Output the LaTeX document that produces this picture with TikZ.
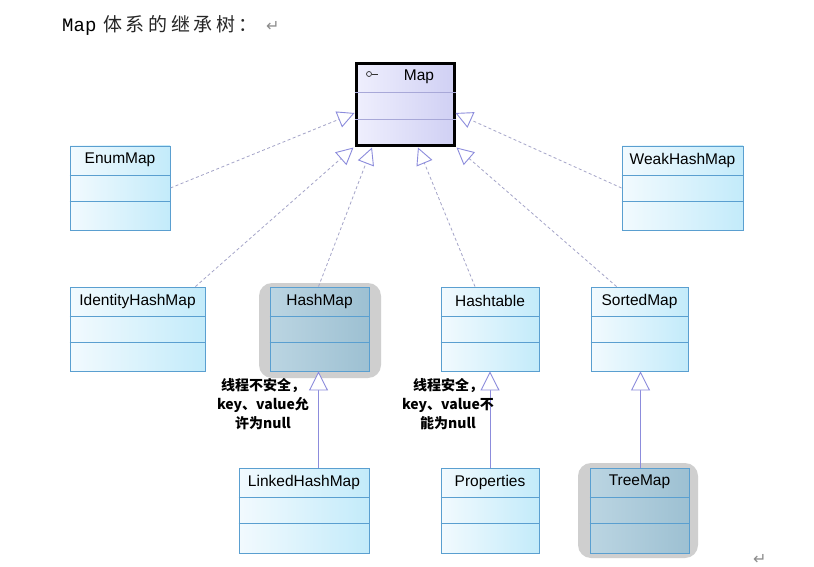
\documentclass[tikz,border=0pt]{standalone}
\usepackage{fontspec}
\setmainfont{Liberation Sans}
\newfontfamily\cjk{Noto Sans CJK SC}
\newfontfamily\cjktitle[LetterSpace=19]{Noto Sans CJK SC}
\newfontfamily\monof{Liberation Mono}
\newfontfamily\symf{DejaVu Sans}
\usetikzlibrary{arrows.meta,fit,positioning}
\definecolor{boxline}{HTML}{5A9FD0}
\definecolor{boxL}{HTML}{F2FAFE}
\definecolor{boxR}{HTML}{C3EBFA}
\definecolor{selL}{HTML}{BBD5E2}
\definecolor{selR}{HTML}{9DC0D2}
\definecolor{mapL}{HTML}{EFEFFD}
\definecolor{mapR}{HTML}{D0D0F4}
\definecolor{maplin}{HTML}{A8A8D8}
\definecolor{dep}{HTML}{A4A4C8}
\definecolor{tri}{HTML}{8C8CDC}
\definecolor{shad}{HTML}{CFCFCF}
\tikzset{
  cls/.style={draw=boxline, line width=0.9pt, left color=boxL, right color=boxR, inner sep=0pt},
  selcls/.style={draw=boxline, line width=0.9pt, left color=selL, right color=selR, inner sep=0pt},
  mapcls/.style={draw=black, line width=3pt, left color=mapL, right color=mapR, inner sep=0pt},
  shadowbox/.style={fill=shad, rounded corners=13pt, inner sep=0pt},
  lbl/.style={font=\fontsize{15.5}{18}\selectfont, text=black},
  note/.style={font=\cjk\bfseries\fontsize{14}{19}\selectfont, align=center, text=black},
  depend/.style={draw=dep, line width=0.8pt, dash pattern=on 3pt off 2.5pt,
     -{Triangle[open, length=17pt, width=17pt, line width=0.9pt, color=tri, fill=white]}},
  inherit/.style={draw=tri, line width=0.9pt,
     -{Triangle[open, length=19pt, width=19pt, line width=0.9pt, fill=white]}},
}
\newcommand\clsbox[7][cls]{%
  \node[#1, fit={(#2,#3) (#4,#5)}] (#6) {};
  \draw[draw=boxline, line width=0.8pt] ([yshift=-30pt]#6.north west) -- ([yshift=-30pt]#6.north east);
  \draw[draw=boxline, line width=0.8pt] ([yshift=-56pt]#6.north west) -- ([yshift=-56pt]#6.north east);
  \node[lbl] (#6-t) at ([yshift=-14.5pt]#6.north) {#7};
}
\begin{document}
\begin{tikzpicture}[x=1pt,y=-1pt]
\useasboundingbox[fill=white] (0,0) rectangle (814,567);

% title
\node[anchor=base west, inner sep=0pt, font=\monof\fontsize{19}{22}\selectfont] (tmap) at (62,32) {Map};
\node[anchor=base west, inner sep=0pt, font=\cjktitle\fontsize{19}{22}\selectfont, text=black!85] (tcjk) at (103,32) {体系的继承树：};
\node[anchor=base west, inner sep=0pt, font=\symf\fontsize{16}{18}\selectfont, text=black!45] (tret) at (266,32) {↵};
\node[anchor=base west, inner sep=0pt, font=\symf\fontsize{16}{18}\selectfont, text=black!45] (eret) at (753,564) {↵};

% shadows
\node[shadowbox, fit={(259,283) (381,378)}] (hmshadow) {};
\node[shadowbox, fit={(578,463) (698,558)}] (tmshadow) {};

% Map
\node[mapcls, fit={(356,64) (454,146)}] (map) {};
\draw[draw=maplin, line width=0.8pt] ([yshift=-30pt]map.north west) -- ([yshift=-30pt]map.north east);
\draw[draw=maplin, line width=0.8pt] ([yshift=-57pt]map.north west) -- ([yshift=-57pt]map.north east);
\node[lbl] (map-t) at ([xshift=14pt,yshift=-14pt]map.north) {Map};
\node[circle, draw=black!80, line width=0.7pt, minimum size=5pt, inner sep=0pt] (mapicon) at (369,74) {};
\coordinate (mapiconend) at (378,74);
\draw[black!80, line width=0.7pt] (mapicon.east) -- (mapiconend);

% classes
\clsbox{70}{146}{170}{230}{enum}{EnumMap}
\clsbox{622}{146}{743}{230}{weak}{WeakHashMap}
\clsbox{70}{287}{205}{371}{ident}{IdentityHashMap}
\clsbox[selcls]{270}{287}{369}{371}{hashmap}{HashMap}
\clsbox{441}{287}{539}{371}{hashtable}{Hashtable}
\clsbox{591}{287}{688}{371}{sorted}{SortedMap}
\clsbox{239}{468}{369}{553}{linked}{LinkedHashMap}
\clsbox{441}{468}{539}{553}{props}{Properties}
\clsbox[selcls]{590}{468}{689}{553}{tree}{TreeMap}

% realizations to Map
\draw[depend] (enum.east) -- ([yshift=-8pt]map.west);
\draw[depend] (weak.west) -- ([yshift=-8pt]map.east);
\draw[depend] ([xshift=-10pt]ident.north east) -- ([xshift=-1pt]map.south west);
\draw[depend] ([xshift=-1pt]hashmap.north) -- ([xshift=-33pt]map.south);
\draw[depend] ([xshift=-15pt]hashtable.north) -- ([xshift=13pt]map.south);
\draw[depend] ([xshift=26pt]sorted.north west) -- ([xshift=1pt]map.south east);

% inheritance
\draw[inherit] ([xshift=-1pt]linked.north -| hashmap.south) -- ([xshift=-1pt]hashmap.south);
\draw[inherit] (props.north) -- (hashtable.south);
\draw[inherit] ([xshift=1pt]tree.north) -- ([xshift=1pt]tree.north |- sorted.south);

% notes
\node[note] (note1) at (263,404) {线程不安全，\\key、value允\\许为null};
\node[note] (note2) at (448,404) {线程安全，\\key、value不\\能为null};
\end{tikzpicture}
\end{document}
